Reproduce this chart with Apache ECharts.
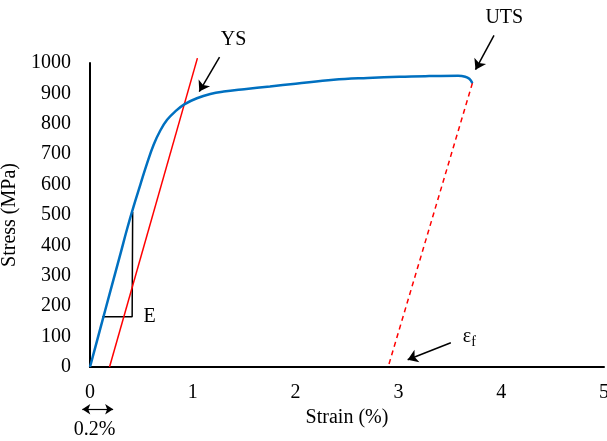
<!DOCTYPE html>
<html><head><meta charset="utf-8">
<script src="https://cdn.jsdelivr.net/npm/echarts@6/dist/echarts.min.js"></script>
<style>html,body{margin:0;padding:0;background:#fff}#c{width:607px;height:441px}</style>
</head><body><div id="c"></div>
<script>
// Engineering stress-strain curve (strain %, stress MPa)
const stressStrain = [[0,0],[0.1,126],[0.2,252],[0.3,377],[0.36,453],[0.425,529],[0.49,600],[0.555,670],[0.62,732],[0.684,778],[0.75,813],[0.83,841],[0.917,864],[1.04,884],[1.17,898],[1.3,906],[1.5,914],[1.75,923],[2.0,932],[2.37,945],[2.7,951],[3.01,955],[3.3,957],[3.58,958],[3.65,955],[3.69,948],[3.72,934]];
const offsetLine = [[0.19,0],[1.045,1016]];        // 0.2% offset line (YS)
const fractureLine = [[3.72,934],[2.9,0]];          // elastic unloading to fracture strain
const modulusTriangle = [[0.12,165],[0.41,165],[0.415,510]];
const xTicks = [0,1,2,3,4,5];
const yTicks = [0,100,200,300,400,500,600,700,800,900,1000];
// annotations: [text, x, y]
const labelYS = ['YS', 1.396, 1076];
const labelUTS = ['UTS', 4.03, 1148];
const labelE = ['E', 0.58, 165];
const labelEf = ['{e|ε}{s|f}', 3.69, 99];
const label02 = ['0.2%', 0.044, -206];
// arrows: [[x1,y1],[x2,y2]]
const arrowYS = [[1.26,1019],[1.063,906]];
const arrowUTS = [[3.93,1091],[3.75,978]];
const arrowEf = [[3.51,80],[3.09,24]];
const arrow02 = [[-0.075,-139],[0.225,-139]];

const font = 'Liberation Serif, Times New Roman, serif';
const chart = echarts.init(document.getElementById('c'));
chart.setOption({
  animation:false,
  grid:{left:90,right:3,top:63,bottom:74,containLabel:false,outerBoundsMode:'none'},
  xAxis:{type:'value',min:xTicks[0],max:xTicks[xTicks.length-1],interval:1,
    name:'Strain (%)',nameLocation:'middle',nameGap:26,
    nameTextStyle:{fontFamily:font,fontSize:20,color:'#000'},
    axisLine:{lineStyle:{color:'#000',width:2}},axisTick:{show:false},splitLine:{show:false},
    axisLabel:{fontFamily:font,fontSize:20,color:'#000',margin:16,formatter:(v)=>String(v),hideOverlap:false}},
  yAxis:{type:'value',min:yTicks[0],max:yTicks[yTicks.length-1],interval:100,
    name:'Stress (MPa)',nameLocation:'middle',nameGap:47,nameRotate:90,
    nameTextStyle:{fontFamily:font,fontSize:20,color:'#000'},
    axisLine:{show:true,lineStyle:{color:'#000',width:2}},axisTick:{show:false},splitLine:{show:false},
    axisLabel:{fontFamily:font,fontSize:20,color:'#000',margin:19,formatter:(v)=>String(v)}},
  series:[
    {type:'line',data:modulusTriangle,showSymbol:false,symbol:'none',lineStyle:{color:'#000',width:1.5},clip:false,z:1},
    {type:'line',data:offsetLine,symbol:'none',lineStyle:{color:'#ff0000',width:1.5},clip:false,z:2},
    {type:'line',data:fractureLine,symbol:'none',lineStyle:{color:'#ff0000',width:1.5,type:[5,4]},clip:false,z:2},
    {type:'line',data:stressStrain,symbol:'none',smooth:0.4,lineStyle:{color:'#0070c0',width:2.5},clip:false,z:3},
    {type:'lines',coordinateSystem:'cartesian2d',clip:false,symbol:['none','arrow'],symbolSize:10,
      lineStyle:{color:'#000',width:1.5,opacity:1},
      data:[{coords:arrowYS},{coords:arrowUTS},{coords:arrowEf}],z:4},
    {type:'lines',coordinateSystem:'cartesian2d',clip:false,symbol:['arrow','arrow'],symbolSize:8,
      lineStyle:{color:'#000',width:1.2,opacity:1},
      data:[{coords:arrow02}],z:4}
  ]
});
// text annotations placed through the chart's own scales
const labels = [labelYS,labelUTS,labelE,labelEf,label02];
chart.setOption({graphic: labels.map(l => {
  const p = chart.convertToPixel({gridIndex:0}, [l[1], l[2]]);
  return {type:'text', x:p[0], y:p[1], z:10, silent:true,
    style:{text:l[0], fill:'#000', font:'20px ' + font, align:'center', verticalAlign:'middle',
      rich:{e:{fill:'#000',font:'20px ' + font}, s:{fill:'#000',font:'14px ' + font, padding:[10,0,0,0]}}}};
})});
</script></body></html>
